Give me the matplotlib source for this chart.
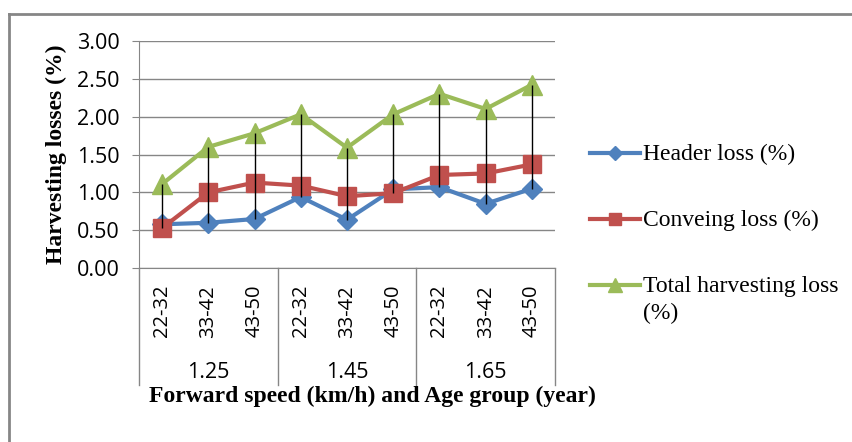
import matplotlib
matplotlib.use("Agg")
import matplotlib.pyplot as plt
import numpy as np

speeds = ["1.25", "1.45", "1.65"]
age_groups = ["22-32", "33-42", "43-50"]
categories = [a for s in speeds for a in age_groups]

header_loss = [0.58, 0.60, 0.65, 0.94, 0.64, 1.04, 1.07, 0.85, 1.05]
conveing_loss = [0.53, 1.00, 1.13, 1.09, 0.95, 0.99, 1.23, 1.25, 1.37]
total_loss = [1.11, 1.60, 1.78, 2.03, 1.59, 2.03, 2.30, 2.10, 2.42]
series_names = ["Header loss (%)", "Conveing loss (%)", "Total harvesting loss\n(%)"]

BLUE = "#4F81BD"
RED = "#C0504D"
GREEN = "#9BBB59"
GRID = "#868686"

SERIF = ["Liberation Serif", "DejaVu Serif"]
SANS = ["Open Sans", "DejaVu Sans"]

fig = plt.figure(figsize=(8.52, 4.42), dpi=100)
ax = fig.add_axes([0.1631, 0.393, 0.4883, 0.5149])

x = np.arange(len(categories))

# high-low lines between the largest and smallest series
hi = np.max([header_loss, conveing_loss, total_loss], axis=0)
lo = np.min([header_loss, conveing_loss, total_loss], axis=0)
ax.vlines(x, lo, hi, color="black", linewidth=1.0, zorder=6)

styles = [(BLUE, "D", 10), (RED, "s", 13), (GREEN, "^", 14)]
for vals, (c, m, ms) in zip([header_loss, conveing_loss, total_loss], styles):
    ax.plot(x, vals, color=c, lw=3, marker=m, ms=ms, zorder=3)

ax.set_xlim(-0.5, len(categories) - 0.5)
ax.set_ylim(0, 3)
ax.set_yticks(np.arange(0, 3.01, 0.5))
ax.yaxis.set_major_formatter(plt.FormatStrFormatter("%.2f"))
ax.grid(axis="y", color=GRID, linewidth=1.0)
ax.set_axisbelow(True)
for side in ["top", "right"]:
    ax.spines[side].set_visible(False)
for side in ["left", "bottom"]:
    ax.spines[side].set_color(GRID)
ax.tick_params(axis="y", length=5, color=GRID, labelsize=15.5, pad=9)
for lab in ax.get_yticklabels():
    lab.set_family(SANS)

ax.set_xticks(x)
ax.set_xticklabels(categories, rotation=90, fontsize=14.5, family=SANS)
ax.tick_params(axis="x", length=0, pad=12)

# two-level category axis: group separators and speed labels
tr = ax.get_xaxis_transform()
bottom = -0.513
for b in [-0.5, 2.5, 5.5, 8.5]:
    ax.plot([b, b], [0, bottom], color=GRID, lw=1.0, transform=tr, clip_on=False)
for i, s in enumerate(speeds):
    ax.text(3 * i + 1, -0.46, s, transform=tr, ha="center", va="center",
            fontsize=15.5, family=SANS)

ax.set_ylabel("Harvesting losses (%)", fontsize=17, fontweight="bold", family=SERIF,
              labelpad=7)
fig.text(372 / 852, 1 - 396 / 442, "Forward speed (km/h) and Age group (year)",
         ha="center", va="center", fontsize=17, fontweight="bold", family=SERIF)

# legend, one row per series
leg_y = [153, 219, 285]
for name, (c, m, ms), yy in zip(series_names, styles, leg_y):
    yf = 1 - yy / 442
    fig.add_artist(plt.Line2D([590 / 852, 640 / 852], [yf, yf], color=c, lw=3))
    fig.add_artist(plt.Line2D([615 / 852], [yf], color=c, marker=m, ms=ms * 0.7))
    fig.text(643 / 852, yf + 9 / 442, name, ha="left", va="top", fontsize=17,
             family=SERIF, linespacing=1.35)

# outer chart border
fig.add_artist(plt.Line2D([9 / 852, 9 / 852], [0, 1 - 14 / 442], color=GRID, lw=2))
fig.add_artist(plt.Line2D([9 / 852, 1], [1 - 14 / 442, 1 - 14 / 442], color=GRID, lw=2))

fig.savefig("out.png", dpi=100)
